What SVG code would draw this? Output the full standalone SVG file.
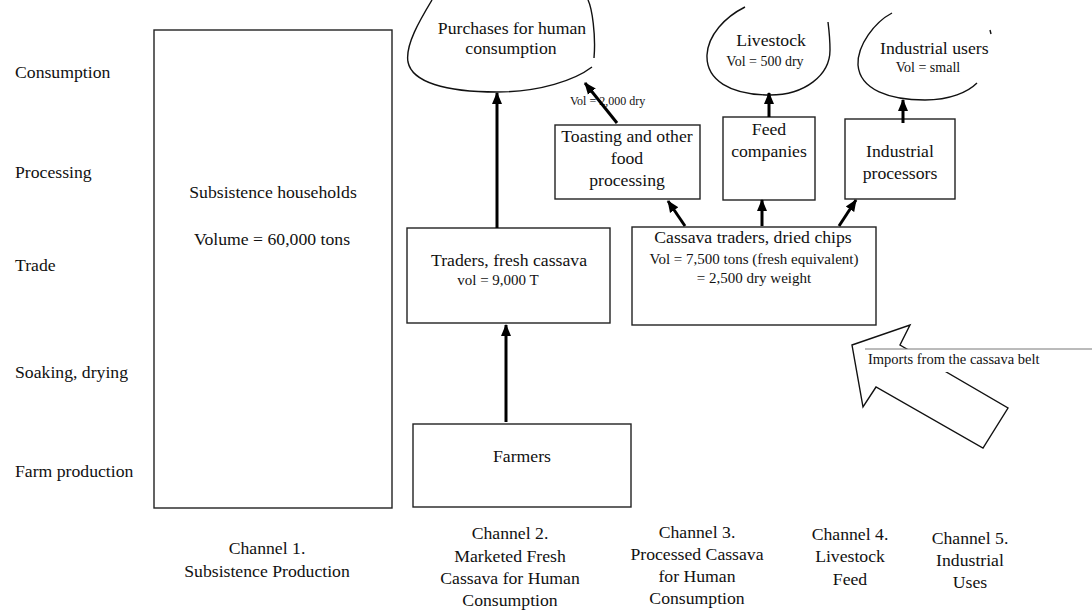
<svg xmlns="http://www.w3.org/2000/svg" width="1092" height="610" viewBox="0 0 1092 610">
<defs>
<marker id="ah" markerUnits="userSpaceOnUse" markerWidth="12" markerHeight="12" viewBox="0 0 12 12" refX="11" refY="6" orient="auto">
<path d="M0,1 L12,6 L0,11 Z" fill="#000"/>
</marker>
</defs>
<style>
text{font-family:"Liberation Serif","Times New Roman",serif;fill:#111;}
.m{font-size:17.7px;}
.s{font-size:15px;}
.xs{font-size:12px;}
.v{font-size:14px;}
.c{text-anchor:middle;}
.box{fill:#fff;stroke:#222;stroke-width:1.4;}
.cloud{fill:none;stroke:#111;stroke-width:1.4;}
.arr{fill:none;stroke:#000;stroke-width:3;marker-end:url(#ah);}
</style>
<rect width="1092" height="610" fill="#fff"/>

<g id="stage-labels" class="m">
<text x="15" y="78">Consumption</text>
<text x="15" y="178">Processing</text>
<text x="15" y="271">Trade</text>
<text x="15" y="378">Soaking, drying</text>
<text x="15" y="477">Farm production</text>
</g>

<g id="subsistence">
<rect class="box" x="154" y="30" width="238" height="478"/>
<text class="m c" x="273" y="198">Subsistence households</text>
<text class="m c" x="272" y="245">Volume = 60,000 tons</text>
</g>

<g id="purchases">
<path class="cloud" d="M432,0 C420,20 405,45 408,62 C412,82 445,92 497,92 C540,92 575,80 592,67"/>
<path class="cloud" d="M588,0 C592,8 596,35 594,58"/>
<text class="m c" x="512" y="34">Purchases for human</text>
<text class="m c" x="511" y="54">consumption</text>
</g>

<g id="livestock">
<path class="cloud" d="M745,7 C725,17 708,35 707,55 C706,80 730,95 770,95 C805,95 830,75 830,50 C830,38 829,30 828,22"/>
<text class="m c" x="771" y="46">Livestock</text>
<text class="v c" x="765" y="66">Vol = 500 dry</text>
</g>

<g id="industrial-users">
<path class="cloud" d="M892,13 C875,22 857,45 858,65 C860,90 890,100 925,100 C950,100 968,92 977,83"/>
<path class="cloud" d="M990,30 L991,34"/>
<text class="m" x="880" y="54">Industrial users</text>
<text class="v c" x="928" y="72">Vol = small</text>
</g>

<g id="toasting">
<rect class="box" x="555" y="125" width="145" height="74"/>
<text class="m c" x="627" y="142">Toasting and other</text>
<text class="m c" x="627" y="164">food</text>
<text class="m c" x="627" y="186">processing</text>
</g>

<g id="feed-companies">
<rect class="box" x="723" y="117" width="92" height="83"/>
<text class="m c" x="769" y="135">Feed</text>
<text class="m c" x="769" y="157">companies</text>
</g>

<g id="industrial-processors">
<rect class="box" x="845" y="119" width="110" height="80"/>
<text class="m c" x="900" y="157">Industrial</text>
<text class="m c" x="900" y="179">processors</text>
</g>

<g id="traders-fresh">
<rect class="box" x="407" y="228" width="203" height="95"/>
<text class="m c" x="509" y="266">Traders, fresh cassava</text>
<text class="s c" x="498" y="285">vol = 9,000 T</text>
</g>

<g id="traders-dried">
<rect class="box" x="632" y="227" width="244" height="98"/>
<text class="m c" x="753" y="243">Cassava traders, dried chips</text>
<text class="s c" x="754" y="264">Vol = 7,500 tons (fresh equivalent)</text>
<text class="s c" x="754" y="283">= 2,500 dry weight</text>
</g>

<g id="farmers">
<rect class="box" x="413" y="424" width="218" height="83"/>
<text class="m c" x="522" y="462">Farmers</text>
</g>

<g id="imports">
<polygon points="852,345 910,325 900,345 1008,408 983,448 876,387 863,407" fill="#fff" stroke="#111" stroke-width="1.4"/>
<rect x="865" y="349" width="227" height="23" fill="#fff"/>
<line x1="865" y1="349" x2="1092" y2="349" stroke="#777" stroke-width="1"/>
<text x="868" y="364" style="font-size:14.5px">Imports from the cassava belt</text>
</g>

<g id="vol-label">
<text class="xs" x="570" y="105">Vol = 2,000 dry</text>
</g>

<g id="connectors">
<line class="arr" x1="497" y1="228" x2="497" y2="93"/>
<line class="arr" x1="506" y1="422" x2="506" y2="325"/>
<line class="arr" x1="617" y1="123" x2="585" y2="83"/>
<line class="arr" x1="769" y1="117" x2="769" y2="93"/>
<line class="arr" x1="903" y1="123" x2="903" y2="100"/>
<line class="arr" x1="685" y1="226" x2="668" y2="201"/>
<line class="arr" x1="762" y1="226" x2="762" y2="200"/>
<line class="arr" x1="839" y1="226" x2="856" y2="200"/>
</g>

<g id="channel-labels" class="m c">
<text x="267" y="554">Channel 1.</text>
<text x="267" y="577">Subsistence Production</text>
<text x="510" y="539">Channel 2.</text>
<text x="510" y="562">Marketed Fresh</text>
<text x="510" y="584">Cassava for Human</text>
<text x="510" y="606">Consumption</text>
<text x="697" y="538">Channel 3.</text>
<text x="697" y="560">Processed Cassava</text>
<text x="697" y="582">for Human</text>
<text x="697" y="604">Consumption</text>
<text x="850" y="540">Channel 4.</text>
<text x="850" y="562">Livestock</text>
<text x="850" y="585">Feed</text>
<text x="970" y="544">Channel 5.</text>
<text x="970" y="566">Industrial</text>
<text x="970" y="588">Uses</text>
</g>
</svg>
